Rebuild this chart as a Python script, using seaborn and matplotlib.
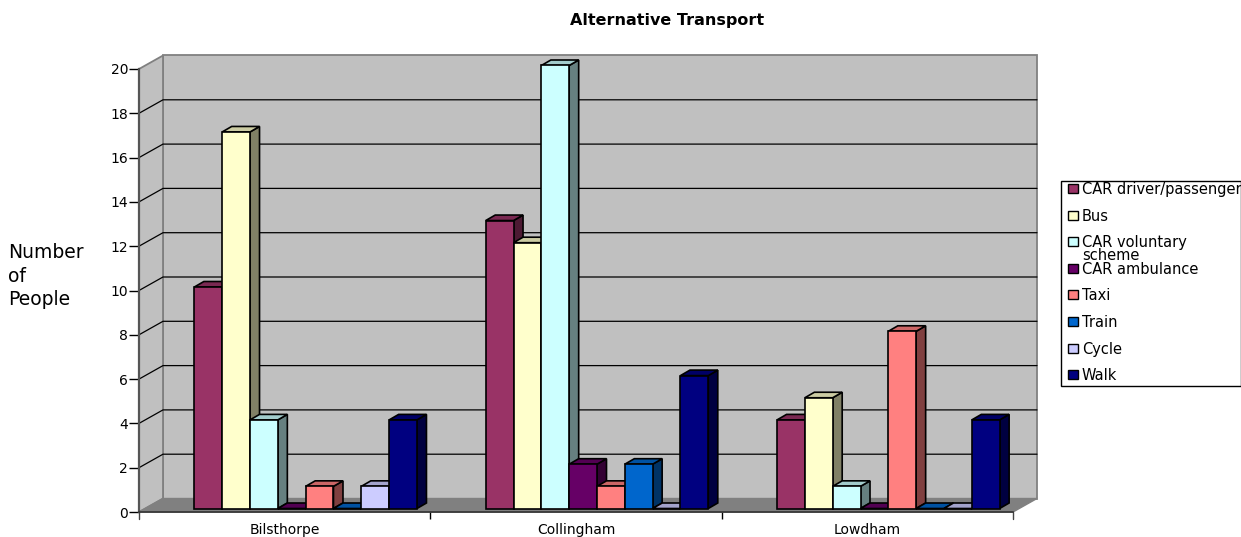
"""Alternative Transport chart, Excel style fake 3D columns drawn over seaborn bars."""
import pandas as pd
import seaborn as sns
import matplotlib
matplotlib.use('Agg')
import matplotlib.pyplot as plt
from matplotlib.patches import Polygon, Rectangle
from matplotlib.transforms import Affine2D, IdentityTransform

sites = ['Bilsthorpe', 'Collingham', 'Lowdham']
modes = ['CAR driver/passenger', 'Bus', 'CAR voluntary\nscheme', 'CAR ambulance',
         'Taxi', 'Train', 'Cycle', 'Walk']
colours = ['#993366', '#FFFFCC', '#CCFFFF', '#660066', '#FF8080', '#0066CC', '#CCCCFF', '#000080']

bilsthorpe = [10, 17, 4, 0, 1, 0, 1, 4]
collingham = [13, 12, 20, 2, 1, 2, 0, 6]
lowdham = [4, 5, 1, 0, 8, 0, 0, 4]

y_ticks = list(range(0, 21, 2))

W, H = 1241, 537
DPI = 100
# depth of the back wall and of each column, in pixels
WALL_DX, WALL_DY = 24, 13.5
BAR_DX, BAR_DY = 9.5, 5.5
BAR_SHIFT = (21, 3.5)

sns.set_style('white')
plt.rcParams['font.family'] = ['DejaVu Sans']
plt.rcParams['text.color'] = 'black'


def shade(colour, k):
    r, g, b = matplotlib.colors.to_rgb(colour)
    return (r * k, g * k, b * k)


def px_poly(fig, pts, **kw):
    fig.add_artist(Polygon(pts, closed=True, transform=IdentityTransform(), **kw))


def draw_walls(fig, ax):
    to_px = ax.transData.transform
    (x0, y0), (x1, y1) = to_px((-0.5, 0)), to_px((2.5, 20))
    bx0, bx1 = x0 + WALL_DX, x1 + WALL_DX
    by0, by1 = y0 + WALL_DY, y1 + WALL_DY
    wall = dict(facecolor='#C0C0C0', edgecolor='#808080', linewidth=1.3, zorder=-5)
    px_poly(fig, [(bx0, by0), (bx1, by0), (bx1, by1), (bx0, by1)], **wall)
    px_poly(fig, [(x0, y0), (bx0, by0), (bx0, by1), (x0, y1)], **wall)
    px_poly(fig, [(x0, y0), (x1, y0), (bx1, by0), (bx0, by0)],
            facecolor='#808080', edgecolor='#808080', linewidth=1, zorder=-4)
    for v in y_ticks[1:-1]:
        _, y = to_px((0, v))
        fig.add_artist(plt.Line2D([x0, bx0, bx1], [y, y + WALL_DY, y + WALL_DY], color='black',
                                  linewidth=0.9, transform=IdentityTransform(), zorder=-3))


def add_depth(ax):
    # fake the 3D look: top and side face behind each front face, left to right
    shifted = ax.transData + Affine2D().translate(*BAR_SHIFT)
    bars = sorted(ax.patches, key=lambda p: p.get_x())
    for i, bar in enumerate(bars):
        (l, b), (r, t) = ax.transData.transform([(bar.get_x(), 0), (bar.get_x() + bar.get_width(), bar.get_height())])
        l, r = l + BAR_SHIFT[0], r + BAR_SHIFT[0]
        b, t = b + BAR_SHIFT[1], t + BAR_SHIFT[1]
        face = bar.get_facecolor()
        z = 2 + i * 0.1
        edge = dict(edgecolor='black', linewidth=1.2, transform=IdentityTransform(), clip_on=False, zorder=z)
        ax.add_patch(Polygon([(r, b), (r + BAR_DX, b + BAR_DY), (r + BAR_DX, t + BAR_DY), (r, t)],
                             facecolor=shade(face, 0.5), **edge))
        ax.add_patch(Polygon([(l, t), (r, t), (r + BAR_DX, t + BAR_DY), (l + BAR_DX, t + BAR_DY)],
                             facecolor=shade(face, 0.8), **edge))
        bar.set_transform(shifted)
        bar.set_clip_on(False)
        bar.set_zorder(z + 0.05)


def draw_legend(fig):
    left, right, top, bottom = 1061, 1240.5, H - 181, H - 386
    fig.add_artist(Rectangle((left, bottom), right - left, top - bottom, facecolor='white', edgecolor='black',
                             linewidth=1, transform=IdentityTransform(), zorder=5))
    for i, (mode, colour) in enumerate(zip(modes, colours)):
        y = H - 188.5 - i * 26.6
        fig.add_artist(Rectangle((1067.5, y - 4.5), 10, 9, facecolor=colour, edgecolor='black', linewidth=1,
                                 transform=IdentityTransform(), zorder=6))
        fig.text(1082 / W, (y + 6.5) / H, mode, fontsize=10.5, va='top', ha='left', linespacing=0.8,
                 color='black', zorder=6)


def main():
    df = pd.DataFrame({'site': sites, **{m: [bilsthorpe[i], collingham[i], lowdham[i]] for i, m in enumerate(modes)}})
    long_df = df.melt(id_vars='site', var_name='mode', value_name='people')

    fig = plt.figure(figsize=(W / DPI, H / DPI), dpi=DPI)
    ax = fig.add_axes([139 / W, (H - 512) / H, 874 / W, 443 / H])
    ax.patch.set_alpha(0)

    sns.barplot(data=long_df, x='site', y='people', hue='mode', hue_order=modes, order=sites,
                palette=colours, width=0.764, gap=0, saturation=1, edgecolor='black', linewidth=1.2,
                legend=False, errorbar=None, ax=ax)
    ax.set_xlim(-0.5, 2.5)
    ax.set_ylim(0, 20)
    ax.set_yticks(y_ticks)
    ax.set_xticks([0.5, 1.5], minor=True)
    ax.set_xlabel('')
    ax.set_ylabel('')
    ax.tick_params(axis='y', which='major', length=7, width=1, left=True, labelsize=10, pad=0.8, colors='black')
    ax.tick_params(axis='x', which='major', length=0, labelsize=10, pad=16, labelcolor='black')
    ax.tick_params(axis='x', which='minor', length=5, width=1, bottom=True, color='black')
    for label in ax.get_xticklabels():
        label.set_va('baseline')
    # category boundaries at the axis ends as well
    for x in (-0.5, 2.5):
        ax.plot([x, x], [0, -0.32], color='#444444', linewidth=1, clip_on=False)
    sns.despine(ax=ax, top=True, right=True)
    ax.spines['left'].set(color='#555555', linewidth=1.6)
    ax.spines['bottom'].set(color='#333333', linewidth=1.2)

    draw_walls(fig, ax)
    add_depth(ax)
    draw_legend(fig)

    fig.text(667 / W, (H - 21) / H, 'Alternative Transport', fontsize=11.5, fontweight='bold', ha='center', va='center')
    fig.text(8 / W, (H - 276) / H, 'Number\nof\nPeople', fontsize=13.5, ha='left', va='center', linespacing=1.3)

    fig.savefig('out.png', dpi=DPI)
    plt.close(fig)


if __name__ == '__main__':
    main()
